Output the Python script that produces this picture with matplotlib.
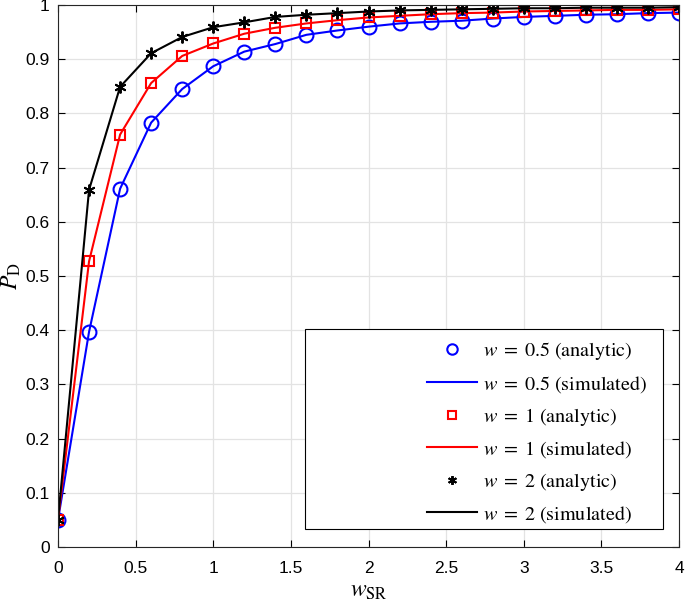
import numpy as np
import matplotlib.pyplot as plt
from matplotlib.patches import Rectangle
from matplotlib.ticker import FuncFormatter

plt.rcParams['mathtext.fontset'] = 'stix'

w_sr = [0.0, 0.2, 0.4, 0.6, 0.8, 1.0, 1.2, 1.4, 1.6, 1.8, 2.0,
        2.2, 2.4, 2.6, 2.8, 3.0, 3.2, 3.4, 3.6, 3.8, 4.0]
pd_w05 = [0.05, 0.397, 0.661, 0.783, 0.845, 0.887, 0.914, 0.928, 0.945, 0.953, 0.960,
          0.966, 0.969, 0.971, 0.975, 0.978, 0.980, 0.982, 0.983, 0.985, 0.986]
pd_w1 = [0.05, 0.527, 0.761, 0.856, 0.906, 0.929, 0.947, 0.958, 0.966, 0.972, 0.977,
         0.980, 0.983, 0.985, 0.986, 0.988, 0.989, 0.990, 0.991, 0.991, 0.992]
pd_w2 = [0.05, 0.659, 0.849, 0.911, 0.941, 0.959, 0.968, 0.978, 0.982, 0.985, 0.988,
         0.990, 0.991, 0.992, 0.993, 0.994, 0.994, 0.995, 0.995, 0.995, 0.996]

fig = plt.figure(figsize=(6.85, 6.03), dpi=100)
ax = fig.add_axes([58/685, 56/603, 621/685, 542/603])

ax.plot(w_sr, pd_w05, 'o', color='blue', mfc='none', ms=10, mew=1.5, label=r'$w\;=\;0.5$ (analytic)')
ax.plot(w_sr, pd_w05, '-', color='blue', lw=1.5, label=r'$w\;=\;0.5$ (simulated)')
ax.plot(w_sr, pd_w1, 's', color='red', mfc='none', ms=7.5, mew=1.5, label=r'$w\;=\;1$ (analytic)')
ax.plot(w_sr, pd_w1, '-', color='red', lw=1.5, label=r'$w\;=\;1$ (simulated)')
ax.plot(w_sr, pd_w2, ls='none', color='black', ms=8.5, mew=1.4, marker=(6, 2, 0), label=r'$w\;=\;2$ (analytic)')
ax.plot(w_sr, pd_w2, '-', color='black', lw=1.5, label=r'$w\;=\;2$ (simulated)')

ax.set_xlim(0, 4)
ax.set_ylim(0, 1)
ax.set_xticks(np.arange(0, 4.01, 0.5))
ax.set_yticks(np.arange(0, 1.01, 0.1))
fmt = FuncFormatter(lambda v, p: ('%g' % round(v, 2)))
ax.xaxis.set_major_formatter(fmt)
ax.yaxis.set_major_formatter(fmt)
ax.tick_params(direction='in', top=True, right=True, labelsize=12.5, length=5, width=0.8, pad=6)
ax.tick_params(axis='x', pad=10)
for lab in ax.get_xticklabels() + ax.get_yticklabels():
    lab.set_family('Liberation Sans')
ax.grid(True, color='#e3e3e3', lw=0.9)
ax.set_axisbelow(True)
for s in ax.spines.values():
    s.set_color('#262626')
    s.set_linewidth(0.8)

ax.set_xlabel(r'$w_{\mathrm{SR}}$', fontsize=17)
ax.xaxis.set_label_coords(0.5, -0.058)
ax.set_ylabel(r'$P_{\mathrm{D}}$', fontsize=17)
ax.yaxis.set_label_coords(-0.056, 0.5)

# legend box drawn separately so the blank area on the left matches
ax.add_patch(Rectangle((0.397, 0.033), 0.577, 0.369, transform=ax.transAxes,
                       facecolor='white', edgecolor='black', lw=0.8, zorder=4))
leg = ax.legend(loc='upper left', bbox_to_anchor=(0.5935, 0.381), frameon=False,
                prop={'family': ['STIXGeneral', 'Liberation Serif'], 'size': 14.5},
                handlelength=2.5, labelspacing=0.55, borderpad=0, borderaxespad=0,
                handletextpad=0.3, markerscale=0.75)
leg.set_zorder(5)

fig.savefig('out.png', dpi=100)
